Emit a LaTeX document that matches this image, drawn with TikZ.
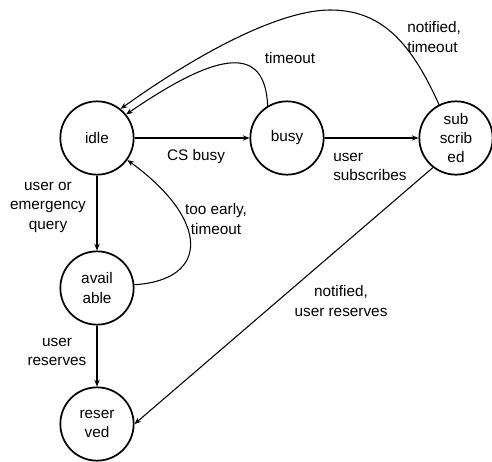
\documentclass[tikz,border=0pt]{standalone}
\usepackage{fontspec}
\setmainfont{Liberation Sans}
\usetikzlibrary{arrows.meta}
\begin{document}
\begin{tikzpicture}[x=0.75pt,y=-0.75pt,
  state/.style={circle,draw,line width=1.3pt,minimum size=55pt,inner sep=0pt,align=center,font=\fontsize{11.5}{14.6}\selectfont},
  lbl/.style={align=center,font=\fontsize{11.5}{14.6}\selectfont,inner sep=0pt},
  edge/.style={line width=0.8pt,-{Stealth[length=5pt,width=4pt]}}]
\useasboundingbox (0,0) rectangle (492,461);
\node[state] (idle) at (97,138) {idle};
\node[state] (busy) at (287,138) {busy};
\node[state] (sub) at (456,138) {sub\\scrib\\ed};
\node[state] (avail) at (97,288) {avail\\able};
\node[state] (res) at (97,424) {reser\\ved};

\draw[edge] (idle) -- (busy);
\draw[edge] (busy) -- (sub);
\draw[edge] (idle) -- (avail);
\draw[edge] (avail) -- (res);
\draw[edge] (sub.232) -- (res.0);
\draw[edge] (avail.5) .. controls (210,280) and (210,220) .. (idle.-36);
\draw[edge] (busy.121) .. controls (265,45) and (220,50) .. (idle.39);
\draw[edge] (sub.117) .. controls (410,40) and (380,10) .. (330,10) .. controls (285,10) and (210,45) .. (idle.51);

\node[lbl] (l1) at (196,157) {CS busy};
\node[lbl,anchor=west,align=left] (l2) at (333,167) {user\\subscribes};
\node[lbl] (l3) at (290,58) {timeout};
\node[lbl,anchor=west,align=left] (l4) at (407,37) {notified,\\timeout};
\node[lbl] (l5) at (48,207) {user or\\emergency\\query};
\node[lbl] (l6) at (216,219) {too early,\\timeout};
\node[lbl] (l7) at (341,301) {notified,\\user reserves};
\node[lbl] (l8) at (57,352) {user\\reserves};
\end{tikzpicture}
\end{document}
